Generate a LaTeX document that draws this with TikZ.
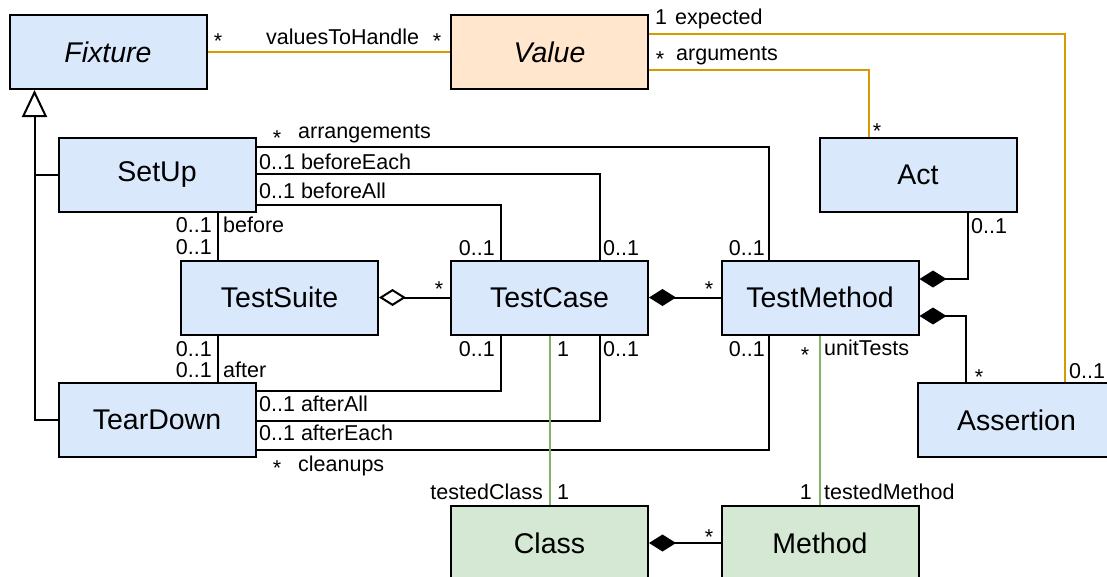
\documentclass[tikz,border=0pt]{standalone}
\usepackage{fontspec}
\setmainfont{Liberation Sans}
\usetikzlibrary{arrows.meta}
\definecolor{bluefill}{HTML}{DAE8FC}
\definecolor{peachfill}{HTML}{FFE6CC}
\definecolor{greenfill}{HTML}{D5E8D4}
\definecolor{orangeline}{HTML}{D79B00}
\definecolor{greenline}{HTML}{82B366}
\begin{document}
\begin{tikzpicture}[x=1pt,y=-1pt,
  cls/.style={draw=black, line width=2pt, minimum width=197pt, minimum height=74pt,
    font=\fontsize{28.5}{34}\selectfont, inner sep=0pt},
  bluebox/.style={cls, fill=bluefill},
  peachbox/.style={cls, fill=peachfill},
  greenbox/.style={cls, fill=greenfill},
  lbl/.style={font=\fontsize{21.5}{25}\selectfont, inner sep=0pt},
  assoc/.style={line width=2pt, draw=black},
  orangel/.style={line width=2pt, draw=orangeline},
  greenl/.style={line width=1.6pt, draw=greenline},
  compo/.style={assoc, {Diamond[length=27pt,width=17pt]}-},
  aggr/.style={assoc, {Diamond[open,length=27pt,width=17pt,fill=white]}-},
  gen/.style={assoc, -{Triangle[open,length=27pt,width=25pt,fill=white]}}
]
\useasboundingbox (0,0) rectangle (1107,576);

% classes
\node[bluebox]  (fixture)    at (108,52)    {\itshape Fixture};
\node[peachbox] (value)      at (549.5,52)  {\itshape Value};
\node[bluebox]  (setup)      at (157,175)   {SetUp};
\node[bluebox]  (act)        at (918,175)   {Act};
\node[bluebox]  (testsuite)  at (279.5,297.5) {TestSuite};
\node[bluebox]  (testcase)   at (549.5,297.5) {TestCase};
\node[bluebox]  (testmethod) at (820,297.5) {TestMethod};
\node[bluebox]  (teardown)   at (157,420)   {TearDown};
\node[bluebox]  (assertion)  at (1016.5,420) {Assertion};
\node[greenbox] (class)      at (549.5,543) {Class};
\node[greenbox] (method)     at (820,543)   {Method};

% orange associations
\draw[orangel] (fixture.east) -- (value.west);
\draw[orangel] ([yshift=18pt]value.east) -| ([xshift=148pt]assertion.north west);
\draw[orangel] ([yshift=-18pt]value.east) -| ([xshift=50pt]act.north west);

% generalization
\coordinate (genjoin) at ([xshift=26pt]fixture.south west |- setup.west);
\draw[gen] (teardown.west) -| ([xshift=26pt]fixture.south west);
\draw[assoc] (setup.west) -- (genjoin);

% SetUp associations
\draw[assoc] ([yshift=28pt]setup.east) -| ([xshift=48pt]testmethod.north west);
\draw[assoc] ([yshift=1pt]setup.east) -| ([xshift=-49pt]testcase.north east);
\draw[assoc] ([yshift=-30pt]setup.east) -| ([xshift=51pt]testcase.north west);
\coordinate (beforex) at ([xshift=38pt]testsuite.north west);
\draw[assoc] (beforex |- setup.south) -- (beforex);

% TearDown associations
\coordinate (afterx) at ([xshift=38pt]testsuite.south west);
\draw[assoc] (afterx) -- (afterx |- teardown.north);
\draw[assoc] ([yshift=29pt]teardown.east) -| ([xshift=51pt]testcase.south west);
\draw[assoc] ([yshift=-1pt]teardown.east) -| ([xshift=-49pt]testcase.south east);
\draw[assoc] ([yshift=-30pt]teardown.east) -| ([xshift=48pt]testmethod.south west);

% aggregation / composition
\draw[aggr] (testsuite.east) -- (testcase.west);
\draw[compo] (testcase.east) -- (testmethod.west);
\draw[compo] ([yshift=18.5pt]testmethod.east) -| ([xshift=-50pt]act.south east);
\draw[compo] ([yshift=-18.5pt]testmethod.east) -| ([xshift=49pt]assertion.north west);
\draw[compo] (class.east) -- (method.west);

% green associations
\draw[greenl] ([xshift=0.5pt]testcase.south) -- ([xshift=0.5pt]class.north);
\draw[greenl] (testmethod.south) -- (method.north);

% labels
\node[lbl, anchor=base] (l1) at (218,48) {*};
\node[lbl, anchor=base west] (l2) at (266,44) {valuesToHandle};
\node[lbl, anchor=base] (l3) at (437,48) {*};
\node[lbl, anchor=base west] (l4) at (655,24) {1};
\node[lbl, anchor=base west] (l5) at (675,24) {expected};
\node[lbl, anchor=base] (l6) at (660,66) {*};
\node[lbl, anchor=base west] (l7) at (676,60) {arguments};
\node[lbl, anchor=base] (l8) at (877,138) {*};
\node[lbl, anchor=base] (l9) at (277,145) {*};
\node[lbl, anchor=base west] (l10) at (298,138) {arrangements};
\node[lbl, anchor=base west] (l11) at (259,169) {0..1 beforeEach};
\node[lbl, anchor=base west] (l12) at (259,198) {0..1 beforeAll};
\node[lbl, anchor=base east] (l13) at (212,232) {0..1};
\node[lbl, anchor=base west] (l14) at (223,232) {before};
\node[lbl, anchor=base east] (l15) at (212,254) {0..1};
\node[lbl, anchor=base east] (l16) at (495,255) {0..1};
\node[lbl, anchor=base west] (l17) at (603,255) {0..1};
\node[lbl, anchor=base east] (l18) at (765,255) {0..1};
\node[lbl, anchor=base west] (l19) at (971,233) {0..1};
\node[lbl, anchor=base] (l20) at (439,296) {*};
\node[lbl, anchor=base] (l21) at (709,296) {*};
\node[lbl, anchor=base east] (l22) at (212,356) {0..1};
\node[lbl, anchor=base east] (l23) at (212,377) {0..1};
\node[lbl, anchor=base west] (l24) at (223,377) {after};
\node[lbl, anchor=base east] (l25) at (495,356) {0..1};
\node[lbl, anchor=base west] (l26) at (557,356) {1};
\node[lbl, anchor=base west] (l27) at (603,356) {0..1};
\node[lbl, anchor=base east] (l28) at (765,356) {0..1};
\node[lbl, anchor=base] (l29) at (805,362) {*};
\node[lbl, anchor=base west] (l30) at (824,355) {unitTests};
\node[lbl, anchor=base] (l31) at (979,384) {*};
\node[lbl, anchor=base west] (l32) at (1069,378) {0..1};
\node[lbl, anchor=base west] (l33) at (259,411) {0..1 afterAll};
\node[lbl, anchor=base west] (l34) at (259,440) {0..1 afterEach};
\node[lbl, anchor=base] (l35) at (277,475) {*};
\node[lbl, anchor=base west] (l36) at (298,471) {cleanups};
\node[lbl, anchor=base east] (l37) at (543,499) {testedClass};
\node[lbl, anchor=base west] (l38) at (557,499) {1};
\node[lbl, anchor=base east] (l39) at (812,499) {1};
\node[lbl, anchor=base west] (l40) at (824,499) {testedMethod};
\node[lbl, anchor=base] (l41) at (709,544) {*};
\end{tikzpicture}
\end{document}
